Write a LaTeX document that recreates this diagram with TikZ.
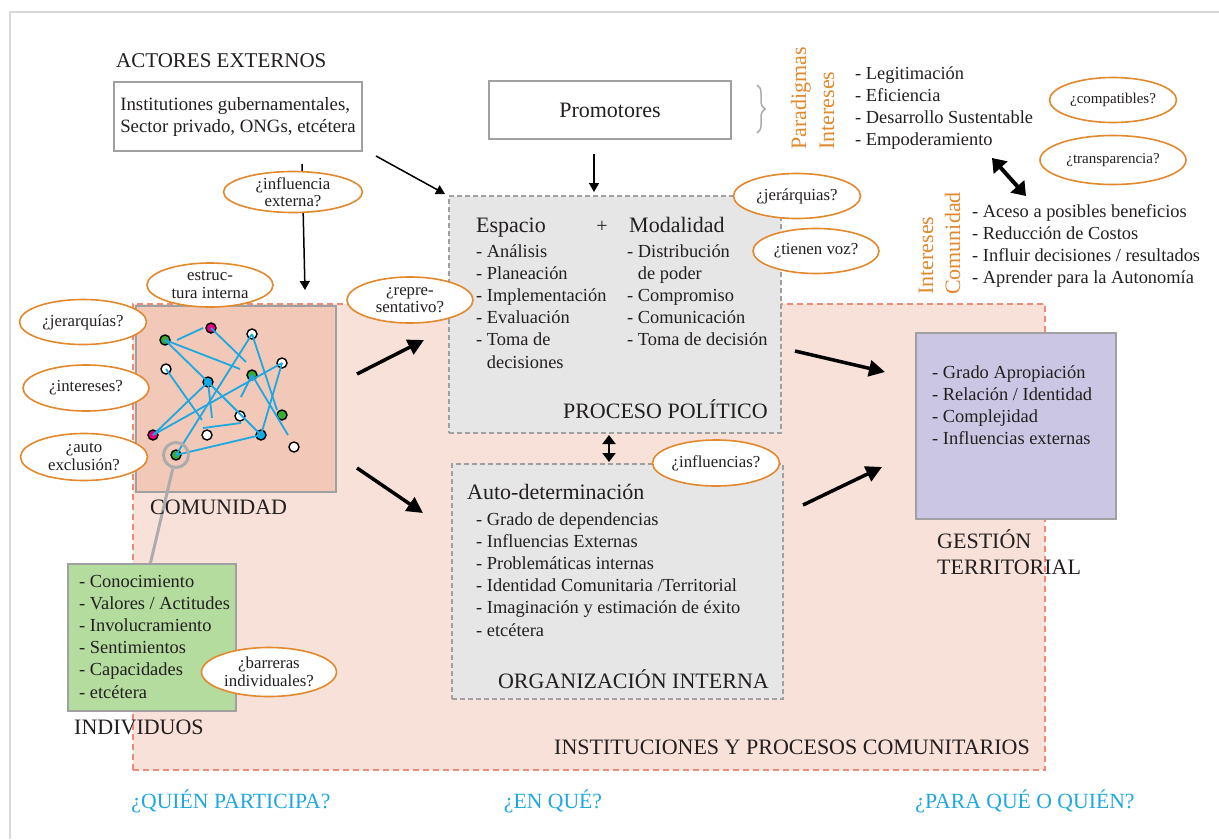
\documentclass[tikz,border=0pt]{standalone}
\usepackage{fontspec}
\setmainfont{Liberation Serif}
\usetikzlibrary{arrows.meta,shapes.geometric,decorations.pathreplacing}

\definecolor{texto}{RGB}{35,31,32}
\definecolor{naranja}{RGB}{226,136,45}
\definecolor{celeste}{RGB}{30,168,226}
\definecolor{rosa}{RGB}{247,225,216}
\definecolor{salmon}{RGB}{236,140,120}
\definecolor{durazno}{RGB}{242,201,184}
\definecolor{gris}{RGB}{160,160,160}
\definecolor{grisclaro}{RGB}{172,172,172}
\definecolor{grisfondo}{RGB}{230,230,230}
\definecolor{verde}{RGB}{179,220,158}
\definecolor{lila}{RGB}{202,198,227}
\definecolor{magenta}{RGB}{230,0,126}
\definecolor{verdenodo}{RGB}{57,170,53}
\definecolor{azulnodo}{RGB}{0,174,239}
\tikzstyle{preg} = [draw=naranja, line width=1.6pt, fill=white, ellipse, inner sep=-5pt, align=center, font=\fontsize{16.8}{17.5}\selectfont]
\tikzstyle{caja} = [draw=gris, line width=1.8pt, inner sep=0pt, anchor=north west]

\begin{document}
\begin{tikzpicture}[x=1pt, y=-1pt, text=texto,
    lista/.style={anchor=base west, align=left, inner sep=0pt, font=\fontsize{18.4}{22.2}\selectfont},
    titulo/.style={inner sep=0pt, font=\fontsize{22}{24}\selectfont},
    subtitulo/.style={anchor=base west, inner sep=0pt, font=\fontsize{22}{24}\selectfont},
    vertical/.style={anchor=base west, rotate=90, inner sep=0pt, text=naranja, font=\fontsize{22}{24}\selectfont},
    pregunta/.style={inner sep=0pt, text=celeste, anchor=base, font=\fontsize{21.7}{24}\selectfont},
    cajagris/.style={draw=gris, line width=1.5pt, dash pattern=on 5pt off 3pt, fill=grisfondo, inner sep=0pt, anchor=north west},
    nodo/.style={circle, draw=black, line width=1.4pt, minimum size=10pt, inner sep=0pt},
    red/.style={celeste, line width=1.8pt},
    flecha/.style={line width=1.5pt, -{Triangle[length=9pt,width=10pt]}},
    flechagruesa/.style={line width=3.5pt, -{Triangle[length=16pt,width=16pt]}}]
\useasboundingbox (0,0) rectangle (1219,839);
\draw[gray!30, line width=2pt] (10,839) -- (10,12) -- (1219,12);

% region comunitaria
\node[draw=salmon, line width=1.5pt, dash pattern=on 6pt off 4pt, fill=rosa, inner sep=0pt, anchor=north west,
      minimum width=912pt, minimum height=466pt] (region) at (132,303) {};

% comunidad y red
\node[caja, fill=durazno, minimum width=200pt, minimum height=186pt] (comunidad) at (135,305) {};
\node[nodo, fill=verdenodo] (n1) at (165,340) {};
\node[nodo, fill=magenta] (n2) at (211,328) {};
\node[nodo, fill=white] (n3) at (252,334) {};
\node[nodo, fill=white] (n4) at (166,369) {};
\node[nodo, fill=azulnodo] (n5) at (208,382) {};
\node[nodo, fill=verdenodo] (n6) at (252,375) {};
\node[nodo, fill=white] (n7) at (282,363) {};
\node[nodo, fill=white] (n8) at (240,416) {};
\node[nodo, fill=verdenodo] (n9) at (282,415) {};
\node[nodo, fill=magenta] (n10) at (153,435) {};
\node[nodo, fill=white] (n11) at (207,435) {};
\node[nodo, fill=azulnodo] (n12) at (261,435) {};
\node[nodo, fill=white] (n13) at (294,447) {};
\node[nodo, fill=verdenodo] (n14) at (176,455) {};
\coordinate (c1) at (177,340);
\coordinate (c2) at (203,328);
\coordinate (c3) at (246,362);
\coordinate (c4) at (240,369);
\coordinate (c5) at (277,410);
\coordinate (c6) at (202,420);
\coordinate (c7) at (212,418);
\coordinate (c8) at (241,397);
\coordinate (c9) at (288,435);
\coordinate (c10) at (203,428);
\coordinate (c11) at (241,423);
\draw[red] (c1) -- (c2);
\draw[red] (n2.center) -- (c3);
\draw[red] (n1.center) -- (c4);
\draw[red] (n1.center) -- (n5.center);
\draw[red] (n3.center) -- (n14.center);
\draw[red] (n3.center) -- (c5);
\draw[red] (n4.center) -- (c6);
\draw[red] (n5.center) -- (n10.center);
\draw[red] (n5.center) -- (c7);
\draw[red] (n5.center) -- (n12.center);
\draw[red] (n10.center) -- (n7.center);
\draw[red] (n6.center) -- (c8);
\draw[red] (n6.center) -- (c9);
\draw[red] (n7.center) -- (n12.center);
\draw[red] (c10) -- (c11);
\draw[red] (n12.center) -- (n14.center);
\node[circle, draw=grisclaro, line width=3pt, minimum size=25pt, inner sep=0pt] (lupa) at (176,455) {};
\coordinate (ancla) at (150,565);
\draw[grisclaro, line width=3pt] (lupa) -- (ancla);
\node[titulo, anchor=base west] (comlbl) at (150,514) {COMUNIDAD};

% individuos
\node[caja, fill=verde, minimum width=168pt, minimum height=147pt] (indiv) at (67,563) {};
\node[lista] (indlista) at (79,698) {- Conocimiento\\- Valores / Actitudes\\- Involucramiento\\- Sentimientos\\- Capacidades\\- etcétera};
\node[titulo, anchor=base west] (indlbl) at (74,734) {INDIVIDUOS};

% actores externos y promotores
\node[titulo, anchor=west, font=\fontsize{21}{24}\selectfont] (actlbl) at (116,61) {ACTORES EXTERNOS};
\node[caja, fill=white, minimum width=248pt, minimum height=69pt, anchor=center, align=left,
      font=\fontsize{18.8}{22}\selectfont] (actores) at (238,116.5) {Institutiones gubernamentales,\\Sector privado, ONGs, etcétera};
\node[caja, fill=white, minimum width=242pt, minimum height=58pt, anchor=center,
      font=\fontsize{22}{24}\selectfont] (promo) at (610,110) {Promotores};
\coordinate (llave1) at (757,85);
\coordinate (llave2) at (757,133);
\draw[grisclaro, line width=1.5pt, decorate, decoration={brace, amplitude=8pt}] (llave1) -- (llave2);
\node[vertical] (paradigmas) at (806,150) {Paradigmas};
\node[vertical] (intprom) at (834,150) {Intereses};
\node[lista] (parlista) at (855,145.6) {- Legitimación\\- Eficiencia\\- Desarrollo Sustentable\\- Empoderamiento};
\node[vertical] (intcom) at (933,295) {Intereses};
\node[vertical] (comunidadv) at (960,295) {Comunidad};
\node[lista] (comlista) at (972,283.6) {- Aceso a posibles beneficios\\- Reducción de Costos\\- Influir decisiones / resultados\\- Aprender para la Autonomía};

% proceso politico
\node[cajagris, minimum width=332pt, minimum height=237pt] (proceso) at (448,195) {};
\node[subtitulo] (espacio) at (476,232) {Espacio};
\node[inner sep=0pt, font=\fontsize{20}{22}\selectfont] (mas) at (602,227) {+};
\node[subtitulo] (modalidad) at (629,232) {Modalidad};
\node[lista] (esplista) at (476,368) {- Análisis\\- Planeación\\- Implementación\\- Evaluación\\- Toma de\\\hphantom{- }decisiones};
\node[lista] (modlista) at (627,345.8) {- Distribución\\\hphantom{- }de poder\\- Compromiso\\- Comunicación\\- Toma de decisión};
\node[titulo, anchor=base east] (proclbl) at (768,418) {PROCESO POLÍTICO};

% organizacion interna
\node[cajagris, minimum width=331pt, minimum height=235pt] (organiz) at (451,463) {};
\node[subtitulo] (autodet) at (467,499) {Auto-determinación};
\node[lista] (orglista) at (476,636) {- Grado de dependencias\\- Influencias Externas\\- Problemáticas internas\\- Identidad Comunitaria /Territorial\\- Imaginación y estimación de éxito\\- etcétera};
\node[titulo, anchor=base east] (orglbl) at (769,688) {ORGANIZACIÓN INTERNA};

% gestion territorial
\node[caja, fill=lila, minimum width=200pt, minimum height=186pt] (gestion) at (915,332) {};
\node[lista] (geslista) at (932,444.6) {- Grado Apropiación\\- Relación / Identidad\\- Complejidad\\- Influencias externas};
\node[titulo, anchor=base west, align=left, font=\fontsize{22}{26}\selectfont] (geslbl) at (937,574) {GESTIÓN\\TERRITORIAL};

\node[titulo, anchor=base east] (reglbl) at (1030,754) {INSTITUCIONES Y PROCESOS COMUNITARIOS};

% flechas
\coordinate (a1) at (302,164);
\coordinate (b1) at (305,290);
\coordinate (a2) at (376,156);
\coordinate (b2) at (445,194);
\coordinate (a3) at (594,154);
\coordinate (b3) at (594,192);
\coordinate (a4) at (357,374);
\coordinate (b4) at (424,340);
\coordinate (a5) at (357,468);
\coordinate (b5) at (423,513);
\coordinate (a6) at (795,351);
\coordinate (b6) at (885,372);
\coordinate (a7) at (803,505);
\coordinate (b7) at (882,467);
\coordinate (a8) at (992,158);
\coordinate (b8) at (1026,196);
\coordinate (a9) at (609,435);
\coordinate (b9) at (609,462);
\draw[flecha] (a1) -- (b1);
\draw[flecha] (a2) -- (b2);
\draw[flecha] (a3) -- (b3);
\draw[flechagruesa] (a4) -- (b4);
\draw[flechagruesa] (a5) -- (b5);
\draw[flechagruesa] (a6) -- (b6);
\draw[flechagruesa] (a7) -- (b7);
\draw[line width=4pt, {Triangle[length=13pt,width=18pt]}-{Triangle[length=13pt,width=18pt]}] (a8) -- (b8);
\draw[line width=2pt, {Triangle[length=9pt,width=13pt]}-{Triangle[length=9pt,width=13pt]}] (a9) -- (b9);

% preguntas
\node[preg, minimum width=127pt, minimum height=45pt] (jerarq) at (83,322) {¿jerarquías?};
\node[preg, minimum width=126pt, minimum height=46pt] (intereses) at (86,388) {¿intereses?};
\node[preg, minimum width=127pt, minimum height=47pt] (autoex) at (84,457) {¿auto\\exclusión?};
\node[preg, minimum width=126pt, minimum height=44pt] (estruct) at (210,285) {estruc-\\tura interna};
\node[preg, minimum width=139pt, minimum height=41pt] (influext) at (293,192) {¿influencia\\externa?};
\node[preg, minimum width=126pt, minimum height=46pt] (repre) at (410,300) {¿repre-\\sentativo?};
\node[preg, minimum width=135pt, minimum height=49pt] (barreras) at (269,672) {¿barreras\\individuales?};
\node[preg, minimum width=127pt, minimum height=45pt] (jerarq2) at (797,196) {¿jerárquias?};
\node[preg, minimum width=126pt, minimum height=45pt] (voz) at (816,251) {¿tienen voz?};
\node[preg, minimum width=127pt, minimum height=46pt] (influ) at (716,463) {¿influencias?};
\node[preg, minimum width=127pt, minimum height=45pt, font=\fontsize{15}{17}\selectfont] (compat) at (1113,100) {¿compatibles?};
\node[preg, minimum width=146pt, minimum height=49pt, font=\fontsize{15}{17}\selectfont] (transp) at (1113,160) {¿transparencia?};

% preguntas guia
\node[pregunta] (quien) at (231,808) {¿QUIÉN PARTICIPA?};
\node[pregunta] (enque) at (553,808) {¿EN QUÉ?};
\node[pregunta] (paraque) at (1025,808) {¿PARA QUÉ O QUIÉN?};
\end{tikzpicture}
\end{document}
